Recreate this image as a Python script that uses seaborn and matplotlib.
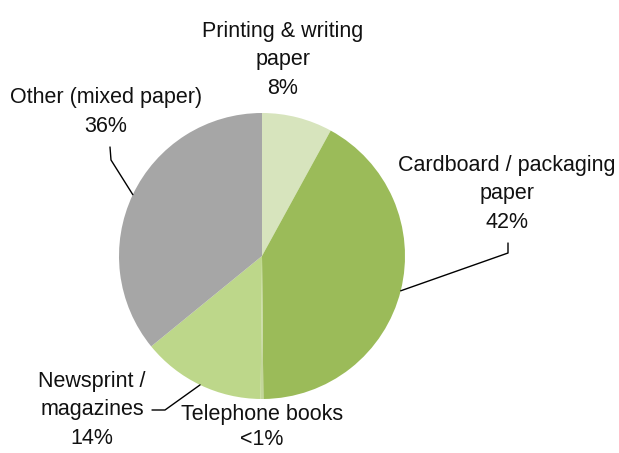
import numpy as np
import seaborn as sns
import matplotlib.pyplot as plt

sns.set_theme(style="white")
plt.rcParams["font.family"] = ["Liberation Sans", "DejaVu Sans"]

# Paper composition (clockwise from 12 o'clock)
categories = ["Printing & writing\npaper", "Cardboard / packaging\npaper",
              "Telephone books", "Newsprint /\nmagazines", "Other (mixed paper)"]
shares = [8, 42, 0.3, 14, 36]
pct_labels = ["8%", "42%", "<1%", "14%", "36%"]
colors = ["#D7E4BD", "#9BBB59", "#C3D69B", "#BDD78A", "#A6A6A6"]

W, H = 619, 453
fig = plt.figure(figsize=(W / 100, H / 100), dpi=100)
cx, cy, r = 262, 256, 143
ax = fig.add_axes([(cx - r) / W, (H - cy - r) / H, 2 * r / W, 2 * r / H])

wedges, _ = ax.pie(shares, colors=colors, startangle=90, counterclock=False,
                   radius=1, wedgeprops=dict(linewidth=0))
ax.set_xlim(-1, 1)
ax.set_ylim(-1, 1)
ax.axis("off")


def px(x, y):
    # pixel position -> axes data coords
    return (x - cx) / r, (cy - y) / r


def mid(w):
    a = np.deg2rad((w.theta1 + w.theta2) / 2)
    return np.cos(a), np.sin(a)


# label text blocks (pixel centres)
label_pos = [(283, 60), (507, 194), (262, 427), (92, 410), (106, 112)]
spacing = [1.45, 1.45, 1.3, 1.45, 1.45]
for cat, pct, (x, y), ls in zip(categories, pct_labels, label_pos, spacing):
    tx, ty = px(x, y)
    ax.text(tx, ty, f"{cat}\n{pct}", ha="center", va="center",
            fontsize=15.5, linespacing=ls, color="#111111", clip_on=False)

# leader lines: wedge edge -> elbow -> label
leaders = {1: [(508, 253), (508, 243)],
           3: [(165, 410), (152, 410)],
           4: [(111, 160), (110, 147)]}
for i, pts in leaders.items():
    ex, ey = mid(wedges[i])
    xs = [ex] + [px(*p)[0] for p in pts]
    ys = [ey] + [px(*p)[1] for p in pts]
    ax.plot(xs, ys, color="black", lw=1, clip_on=False)

fig.savefig("out.png", dpi=100)
